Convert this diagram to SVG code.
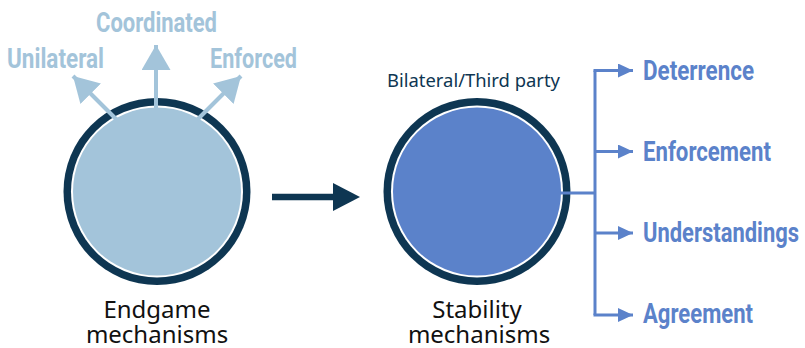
<svg xmlns="http://www.w3.org/2000/svg" width="805" height="348" viewBox="0 0 805 348">
  <style>
    .ring { fill: #0e3652; }
    .gap { fill: #ffffff; }
    .light { fill: #a3c4da; }
    .blue { fill: #5b82ca; }
    .cond { font-family: Roboto, "Liberation Sans", sans-serif; font-weight: 700; font-size: 27px; }
    .cond-light { fill: #a3c4da; }
    .cond-blue { fill: #5b82ca; }
    .caption { font-family: "Noto Sans", "Open Sans", sans-serif; font-size: 24px; fill: #111111; text-anchor: middle; }
    .sub { font-family: "Noto Sans", "Open Sans", sans-serif; font-size: 18px; fill: #0e3652; }
    .ray { stroke: #a3c4da; stroke-width: 4; fill: none; }
    .branch { stroke: #5b82ca; stroke-width: 3; fill: none; }
  </style>
  <defs>
    <marker id="head-light" viewBox="0 0 25 29" refX="25" refY="14.5" markerWidth="25" markerHeight="29" markerUnits="userSpaceOnUse" orient="auto">
      <path d="M0,0 L25,14.5 L0,29 Z" fill="#a3c4da"/>
    </marker>
    <marker id="head-blue" viewBox="0 0 15 14" refX="15" refY="7" markerWidth="15" markerHeight="14" markerUnits="userSpaceOnUse" orient="auto">
      <path d="M0,0 L15,7 L0,14 Z" fill="#5b82ca"/>
    </marker>
  </defs>

  <!-- Endgame mechanisms circle -->
  <g id="endgame">
    <circle class="ring" cx="157" cy="191.5" r="93.5"/>
    <circle class="gap" cx="157" cy="191.5" r="86"/>
    <circle class="light" cx="157" cy="191.5" r="84"/>
    <text class="caption" x="157" y="318">Endgame</text>
    <text class="caption" x="157" y="343">mechanisms</text>
  </g>

  <!-- Stability mechanisms circle -->
  <g id="stability">
    <circle class="ring" cx="477" cy="191.5" r="93.5"/>
    <circle class="gap" cx="477" cy="191.5" r="86"/>
    <circle class="blue" cx="477" cy="191.5" r="84"/>
    <text class="sub" x="387" y="87" textLength="173" lengthAdjust="spacingAndGlyphs">Bilateral/Third party</text>
    <text class="caption" x="477" y="318">Stability</text>
    <text class="caption" x="479" y="343">mechanisms</text>
  </g>

  <!-- Endgame outcome labels -->
  <g id="unilateral">
    <text class="cond cond-light" x="7" y="68" textLength="97" lengthAdjust="spacingAndGlyphs">Unilateral</text>
  </g>
  <g id="coordinated">
    <text class="cond cond-light" x="96" y="32" textLength="121" lengthAdjust="spacingAndGlyphs">Coordinated</text>
  </g>
  <g id="enforced">
    <text class="cond cond-light" x="210" y="68" textLength="87" lengthAdjust="spacingAndGlyphs">Enforced</text>
  </g>

  <!-- Stability outcome labels -->
  <g id="deterrence">
    <text class="cond cond-blue" x="643" y="80" textLength="111" lengthAdjust="spacingAndGlyphs">Deterrence</text>
  </g>
  <g id="enforcement">
    <text class="cond cond-blue" x="643" y="161" textLength="128" lengthAdjust="spacingAndGlyphs">Enforcement</text>
  </g>
  <g id="understandings">
    <text class="cond cond-blue" x="643" y="242" textLength="156" lengthAdjust="spacingAndGlyphs">Understandings</text>
  </g>
  <g id="agreement">
    <text class="cond cond-blue" x="643" y="323" textLength="110" lengthAdjust="spacingAndGlyphs">Agreement</text>
  </g>

  <!-- Connectors -->
  <g id="connectors">
    <line class="ray" x1="117" y1="120" x2="73" y2="76" marker-end="url(#head-light)"/>
    <line class="ray" x1="156" y1="110" x2="156" y2="45" marker-end="url(#head-light)"/>
    <line class="ray" x1="197" y1="120" x2="241" y2="76" marker-end="url(#head-light)"/>

    <line x1="272" y1="197" x2="336" y2="197" stroke="#0e3652" stroke-width="6.5"/>
    <path d="M333,183 L360,197 L333,211 Z" fill="#0e3652"/>

    <line class="branch" x1="560" y1="193" x2="595" y2="193"/>
    <path class="branch" d="M595,315 L595,70.5"/>
    <line class="branch" x1="593.5" y1="70.5" x2="633" y2="70.5" marker-end="url(#head-blue)"/>
    <line class="branch" x1="595" y1="151.5" x2="633" y2="151.5" marker-end="url(#head-blue)"/>
    <line class="branch" x1="595" y1="233" x2="633" y2="233" marker-end="url(#head-blue)"/>
    <line class="branch" x1="593.5" y1="315" x2="633" y2="315" marker-end="url(#head-blue)"/>
  </g>
</svg>
